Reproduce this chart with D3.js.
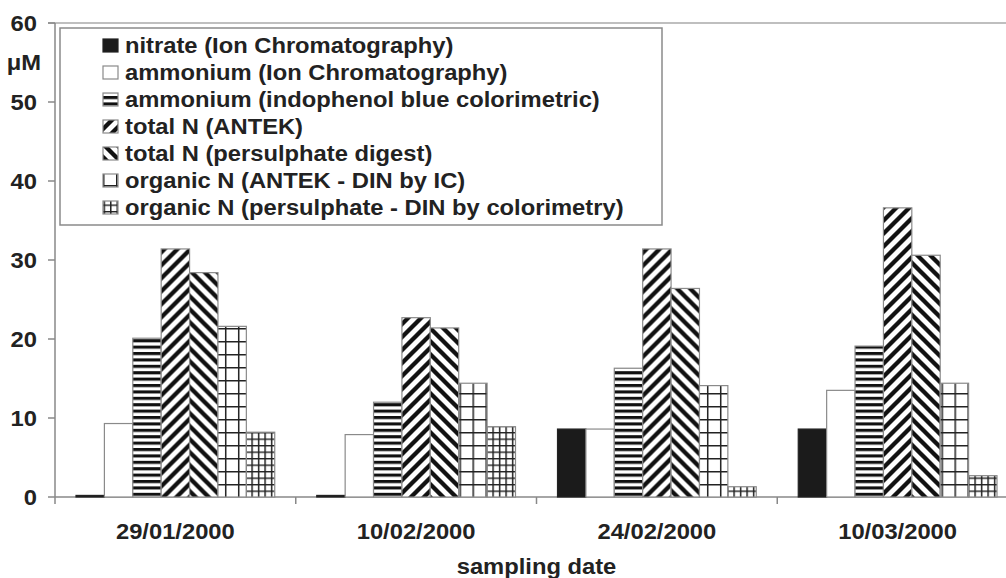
<!DOCTYPE html>
<html>
<head>
<meta charset="utf-8">
<script src="https://cdn.jsdelivr.net/npm/d3@7"></script>
<style>
	body { margin: 0; background: #fff; }
	text { font-family: 'Liberation Sans', Arial, sans-serif; font-weight: bold; fill: #222; }
</style>
</head>
<body>
<div id="app"></div>
<script>
// values (µM)
const dates = ['29/01/2000', '10/02/2000', '24/02/2000', '10/03/2000'];
const seriesNames = [
	'nitrate (Ion Chromatography)',
	'ammonium (Ion Chromatography)',
	'ammonium (indophenol blue colorimetric)',
	'total N (ANTEK)',
	'total N (persulphate digest)',
	'organic N (ANTEK - DIN by IC)',
	'organic N (persulphate - DIN by colorimetry)'
];
const nitrateIC = [0.2, 0.2, 8.6, 8.6];
const ammoniumIC = [9.3, 7.9, 8.6, 13.5];
const ammoniumIndophenol = [20.1, 12.0, 16.3, 19.1];
const totalAntek = [31.4, 22.7, 31.4, 36.6];
const totalPersulphate = [28.4, 21.4, 26.4, 30.6];
const organicAntek = [21.6, 14.4, 14.1, 14.4];
const organicPersulphate = [8.2, 8.9, 1.3, 2.7];
const yTicks = [0, 10, 20, 30, 40, 50, 60];

const series = [nitrateIC, ammoniumIC, ammoniumIndophenol, totalAntek, totalPersulphate, organicAntek, organicPersulphate];

let width = 1006;
let height = 578;
let stretch = 1.08; // the scan is a bit wider than tall

const svg = d3.create('svg').attr('width', width).attr('height', height);
const defs = svg.append('defs');

const x0 = d3.scaleBand().domain(dates).range([55, 1018]);
const x1 = d3.scaleBand().domain(d3.range(seriesNames.length)).range([0, x0.bandwidth()]).paddingOuter(0.74);
const y = d3.scaleLinear().domain([0, 60]).range([497, 23]);

// ---- patterns
function hStripes(id) {
	const p = defs.append('pattern').attr('id', id).attr('patternUnits', 'userSpaceOnUse').attr('width', 10).attr('height', 6.4);
	p.append('rect').attr('width', 10).attr('height', 6.4).attr('fill', '#fff');
	p.append('rect').attr('width', 10).attr('height', 3.1).attr('fill', '#111');
}

function diag(id, up, px) {
	const s = 13, h = s / 4;
	const p = defs.append('pattern').attr('id', id).attr('patternUnits', 'userSpaceOnUse').attr('x', px).attr('y', 0).attr('width', s).attr('height', s);
	p.append('rect').attr('width', s).attr('height', s).attr('fill', '#fff');
	const d = up
		? `M${-h},${h}L${h},${-h}M0,${s}L${s},0M${s - h},${s + h}L${s + h},${s - h}`
		: `M${-h},${s - h}L${h},${s + h}M0,0L${s},${s}M${s - h},${-h}L${s + h},${h}`;
	p.append('path').attr('d', d).attr('stroke', '#111').attr('stroke-width', 4.3).attr('fill', 'none');
}

function grid(id, s, px) {
	const p = defs.append('pattern').attr('id', id).attr('patternUnits', 'userSpaceOnUse').attr('x', px).attr('y', 3).attr('width', s).attr('height', s);
	p.append('rect').attr('width', s).attr('height', s).attr('fill', '#fff');
	p.append('path').attr('d', `M0.75,0V${s}M0,0.75H${s}`).attr('stroke', '#222').attr('stroke-width', 1.5).attr('fill', 'none');
}

hStripes('hstripe');
dates.forEach((d, i) => {
	let b = x0(d) + x1(4); // shared edge of the two total N bars -> chevrons
	diag(`up-${i}`, true, b);
	diag(`down-${i}`, false, b);
	grid(`big-${i}`, 13, x0(d) + x1(5) + 4);
	grid(`small-${i}`, 6.5, x0(d) + x1(6) + 2);
});
diag('up-leg', true, 102);
diag('down-leg', false, 102);
grid('big-leg', 13, 103);
grid('small-leg', 6.5, 103.5);

function fillFor(j, key) {
	if (j === 0) return '#1b1b1b';
	if (j === 1) return '#fff';
	if (j === 2) return 'url(#hstripe)';
	if (j === 3) return `url(#up-${key})`;
	if (j === 4) return `url(#down-${key})`;
	if (j === 5) return `url(#big-${key})`;
	return `url(#small-${key})`;
}

function label(g, txt, x, yy, anchor) {
	return g.append('text')
		.attr('transform', `translate(${x},${yy}) scale(${stretch},1)`)
		.attr('text-anchor', anchor)
		.style('font-size', '22px')
		.text(txt);
}

// ---- plot frame
svg.append('line').attr('x1', 48).attr('x2', width).attr('y1', y(60)).attr('y2', y(60)).attr('stroke', '#aaa').attr('stroke-width', 1.5);
svg.append('line').attr('x1', 55).attr('x2', 55).attr('y1', y(60)).attr('y2', 504).attr('stroke', '#888').attr('stroke-width', 1.5);
svg.append('line').attr('x1', 55).attr('x2', width).attr('y1', y(0)).attr('y2', y(0)).attr('stroke', '#888').attr('stroke-width', 1.5);

const yAxis = svg.append('g');
yTicks.forEach((t) => {
	yAxis.append('line').attr('x1', 48).attr('x2', 55).attr('y1', y(t)).attr('y2', y(t)).attr('stroke', '#888').attr('stroke-width', 1.5);
	label(yAxis, t, 37, y(t) + 8, 'end');
});
label(svg, 'μM', 24, 70, 'middle');

// category ticks between groups
dates.forEach((d) => {
	let xe = x0(d) + x0.bandwidth();
	svg.append('line').attr('x1', xe).attr('x2', xe).attr('y1', y(0)).attr('y2', 504).attr('stroke', '#888').attr('stroke-width', 1.5);
	label(svg, d, x0(d) + x0.bandwidth() / 2, 539, 'middle');
});
label(svg, 'sampling date', (55 + 1018) / 2, 574, 'middle');

// ---- bars
const groups = svg.append('g').selectAll('g').data(dates).join('g').attr('transform', (d) => `translate(${x0(d)},0)`);

groups
	.selectAll('rect')
	.data((d, i) => series.map((s, j) => ({ j, i, v: s[i] })))
	.join('rect')
	.attr('x', (d) => x1(d.j))
	.attr('width', x1.bandwidth())
	.attr('y', (d) => y(d.v))
	.attr('height', (d) => y(0) - y(d.v))
	.attr('fill', (d) => fillFor(d.j, d.i))
	.attr('stroke', (d) => (d.j === 0 ? '#222' : '#8a8a8a'))
	.attr('stroke-width', 1.2);

// ---- legend
const legend = svg.append('g');
legend.append('rect').attr('x', 60).attr('y', 28).attr('width', 602).attr('height', 197).attr('fill', '#fff').attr('stroke', '#8a8a8a').attr('stroke-width', 1.5);

seriesNames.forEach((name, j) => {
	let base = 53 + j * 27;
	legend.append('rect')
		.attr('x', 103)
		.attr('y', base - 14)
		.attr('width', 15)
		.attr('height', 13)
		.attr('fill', fillFor(j, 'leg'))
		.attr('stroke', j === 0 ? '#222' : '#8a8a8a')
		.attr('stroke-width', 1.2);
	label(legend, name, 125, base, 'start');
});

document.getElementById('app').append(svg.node());
</script>
</body>
</html>
